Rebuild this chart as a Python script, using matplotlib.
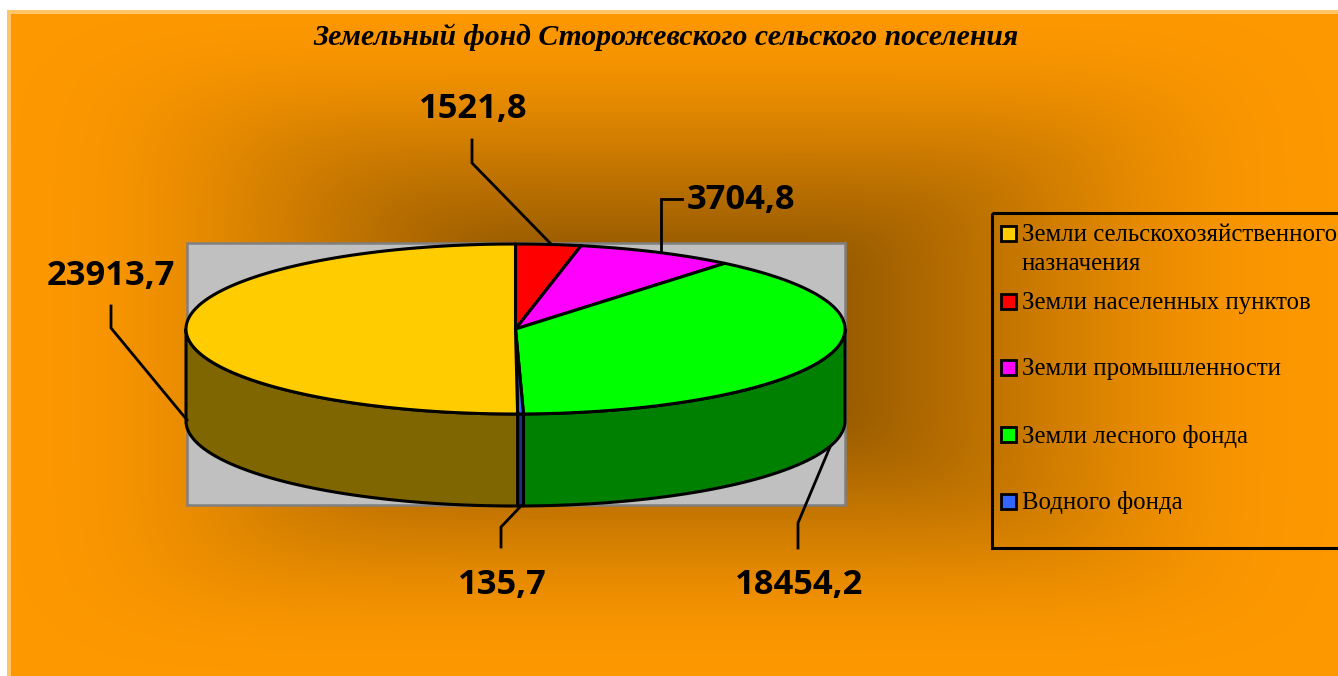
import numpy as np
import matplotlib
matplotlib.use("Agg")
import matplotlib.pyplot as plt
from matplotlib.patches import Polygon, Rectangle

title = "Земельный фонд Сторожевского сельского поселения"
categories = ["Земли населенных пунктов", "Земли промышленности", "Земли лесного фонда",
              "Водного фонда", "Земли сельскохозяйственного\nназначения"]
values = [1521.8, 3704.8, 18454.2, 135.7, 23913.7]
value_labels = ["1521,8", "3704,8", "18454,2", "135,7", "23913,7"]
top_colors = ["#FF0000", "#FF00FF", "#00FF00", "#3366FF", "#FFCC00"]
side_colors = ["#800000", "#800080", "#008000", "#1A3380", "#806600"]
legend_order = [4, 0, 1, 2, 3]
legend_y = [233, 301, 367, 434, 501]

W, H = 1338, 676
CX, CY, RX, RY, DEPTH = 515.5, 329, 329.5, 85, 92
LW = 2.2

fig = plt.figure(figsize=(W / 100, H / 100), dpi=100, facecolor="white")
ax = fig.add_axes([0, 0, 1, 1])
ax.set_xlim(0, W)
ax.set_ylim(H, 0)
ax.axis("off")

# background: soft rectangular gradient
yy, xx = np.mgrid[0:H, 0:W]
p = 7.0
t = ((np.abs(xx - 670) / 560.0) ** p + (np.abs(yy - 338) / 285.0) ** p) ** (1 / p)
k = 12.0
t = t / (1 + t ** k) ** (1 / k)
shade = 0.42 + 0.58 * t
img = np.zeros((H, W, 3))
img[..., 0] = 1.0 * shade
img[..., 1] = 0.6 * shade
ax.imshow(img, extent=(0, W, H, 0), zorder=0, interpolation="bilinear", aspect="auto")
ax.set_xlim(0, W)
ax.set_ylim(H, 0)
ax.add_patch(Rectangle((0, 0), W, 10, fc="white", ec="none", zorder=1))
ax.add_patch(Rectangle((0, 0), 7, H, fc="white", ec="none", zorder=1))
ax.add_patch(Rectangle((7, 10), W, 4, fc="#FFC566", ec="none", zorder=1))
ax.add_patch(Rectangle((7, 10), 4, H, fc="#FFC566", ec="none", zorder=1))

ax.text(666, 37, title, ha="center", va="center", fontsize=21.4, family="Liberation Serif",
        weight="bold", style="italic", color="black", zorder=5)

# plot area
ax.add_patch(Rectangle((187, 243), 658, 262, fc="#C0C0C0", ec="#808080", lw=1.8, zorder=2))


def point(theta, dz=0):
    return CX + RX * np.sin(theta), CY - RY * np.cos(theta) + dz


fr = np.array(values) / np.sum(values)
edges = np.concatenate([[0], np.cumsum(fr)]) * 2 * np.pi

# sides (front half only)
for i in range(len(values)):
    a = max(edges[i], np.pi / 2)
    b = min(edges[i + 1], 3 * np.pi / 2)
    if b <= a:
        continue
    th = np.linspace(a, b, 120)
    x, y = point(th)
    xb, yb = point(th[::-1], DEPTH)
    ax.add_patch(Polygon(np.r_[np.c_[x, y], np.c_[xb, yb]], closed=True, fc=side_colors[i],
                         ec="black", lw=LW, joinstyle="round", zorder=3))

# tops
for i in range(len(values)):
    th = np.linspace(edges[i], edges[i + 1], 200)
    x, y = point(th)
    ax.add_patch(Polygon(np.r_[[[CX, CY]], np.c_[x, y]], closed=True, fc=top_colors[i],
                         ec="black", lw=LW, joinstyle="round", zorder=4))

# leaders and value labels (index into values)
leaders = {
    0: [(550, 243), (472, 163), (472, 140)],
    1: [(661, 250), (661, 199), (682, 199)],
    2: [(830, 447), (798, 523), (798, 548)],
    3: [(521, 506), (501, 527), (501, 547)],
    4: [(187, 420), (111, 328), (111, 306)],
}
label_pos = {0: (473, 109), 1: (741, 200), 2: (799, 585), 3: (502, 585), 4: (111, 276)}
for i, pts in leaders.items():
    q = np.array(pts)
    ax.plot(q[:, 0], q[:, 1], color="black", lw=2.0, zorder=5, solid_joinstyle="miter")
    ax.text(*label_pos[i], value_labels[i], ha="center", va="center", fontsize=24.8,
            family="Open Sans", weight="bold", color="black", zorder=6)

# legend
ax.add_patch(Rectangle((992, 213), 400, 335, fc="none", ec="black", lw=2.2, zorder=5))
for idx, y in zip(legend_order, legend_y):
    ax.add_patch(Rectangle((1001, y - 7), 15, 15, fc=top_colors[idx], ec="black", lw=2.0, zorder=6))
    lines = categories[idx].split("\n")
    for n, line in enumerate(lines):
        ax.text(1022, y + 2 + n * 29, line, ha="left", va="center", fontsize=17.8,
                family="Liberation Serif", color="black", zorder=6)

fig.savefig("out.png", dpi=100, facecolor="white")
